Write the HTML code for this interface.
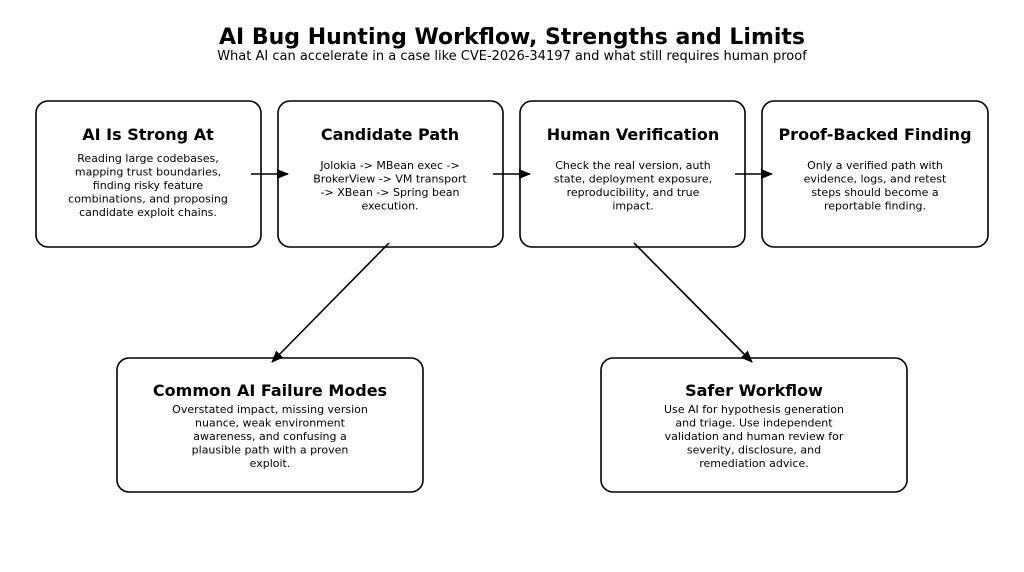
<!DOCTYPE html>
<html><head><meta charset="utf-8"><style>
html,body{margin:0;padding:0;background:#fff;width:1024px;height:572px;overflow:hidden}
svg{display:block;font-family:"DejaVu Sans","Liberation Sans",sans-serif}
.t{font-weight:bold;font-size:16px;text-anchor:middle}
.b{font-size:11px;text-anchor:middle}
rect{fill:#fff;stroke:#000;stroke-width:1.6}
line{stroke:#000;stroke-width:1.6}
</style></head><body>
<svg width="1024" height="572" viewBox="0 0 1024 572">
<defs><marker id="a" markerWidth="12" markerHeight="10" refX="11" refY="5" orient="auto" markerUnits="userSpaceOnUse"><path d="M0,0 L12,5 L0,10 z" fill="#000"/></marker></defs>
<text x="512" y="44" text-anchor="middle" font-size="22" font-weight="bold">AI Bug Hunting Workflow, Strengths and Limits</text>
<text x="512" y="60" text-anchor="middle" font-size="13">What AI can accelerate in a case like CVE-2026-34197 and what still requires human proof</text>

<rect x="36" y="101" width="225" height="146" rx="12"/>
<rect x="278" y="101" width="225" height="146" rx="12"/>
<rect x="520" y="101" width="225" height="146" rx="12"/>
<rect x="762" y="101" width="226" height="146" rx="12"/>
<rect x="117" y="358" width="306" height="134" rx="12"/>
<rect x="601" y="358" width="306" height="134" rx="12"/>

<line x1="251" y1="174" x2="288" y2="174" marker-end="url(#a)"/>
<line x1="493" y1="174" x2="530" y2="174" marker-end="url(#a)"/>
<line x1="735" y1="174" x2="772" y2="174" marker-end="url(#a)"/>
<line x1="389" y1="243" x2="272" y2="362" marker-end="url(#a)"/>
<line x1="634" y1="243" x2="752" y2="362" marker-end="url(#a)"/>

<text class="t" x="148" y="140">AI Is Strong At</text>
<text class="b" x="148" y="162">Reading large codebases,</text>
<text class="b" x="148" y="175.5">mapping trust boundaries,</text>
<text class="b" x="148" y="189">finding risky feature</text>
<text class="b" x="148" y="202.5">combinations, and proposing</text>
<text class="b" x="148" y="216">candidate exploit chains.</text>

<text class="t" x="390" y="140">Candidate Path</text>
<text class="b" x="390" y="169">Jolokia -&gt; MBean exec -&gt;</text>
<text class="b" x="390" y="182.5">BrokerView -&gt; VM transport</text>
<text class="b" x="390" y="196">-&gt; XBean -&gt; Spring bean</text>
<text class="b" x="390" y="209.5">execution.</text>

<text class="t" x="633" y="140">Human Verification</text>
<text class="b" x="633" y="169">Check the real version, auth</text>
<text class="b" x="633" y="182.5">state, deployment exposure,</text>
<text class="b" x="633" y="196">reproducibility, and true</text>
<text class="b" x="633" y="209.5">impact.</text>

<text class="t" x="875" y="140">Proof-Backed Finding</text>
<text class="b" x="875" y="169">Only a verified path with</text>
<text class="b" x="875" y="182.5">evidence, logs, and retest</text>
<text class="b" x="875" y="196">steps should become a</text>
<text class="b" x="875" y="209.5">reportable finding.</text>

<text class="t" x="270" y="396">Common AI Failure Modes</text>
<text class="b" x="270" y="413">Overstated impact, missing version</text>
<text class="b" x="270" y="426.5">nuance, weak environment</text>
<text class="b" x="270" y="440">awareness, and confusing a</text>
<text class="b" x="270" y="453.5">plausible path with a proven</text>
<text class="b" x="270" y="467">exploit.</text>

<text class="t" x="754" y="396">Safer Workflow</text>
<text class="b" x="754" y="413">Use AI for hypothesis generation</text>
<text class="b" x="754" y="426.5">and triage. Use independent</text>
<text class="b" x="754" y="440">validation and human review for</text>
<text class="b" x="754" y="453.5">severity, disclosure, and</text>
<text class="b" x="754" y="467">remediation advice.</text>
</svg>
</body></html>
